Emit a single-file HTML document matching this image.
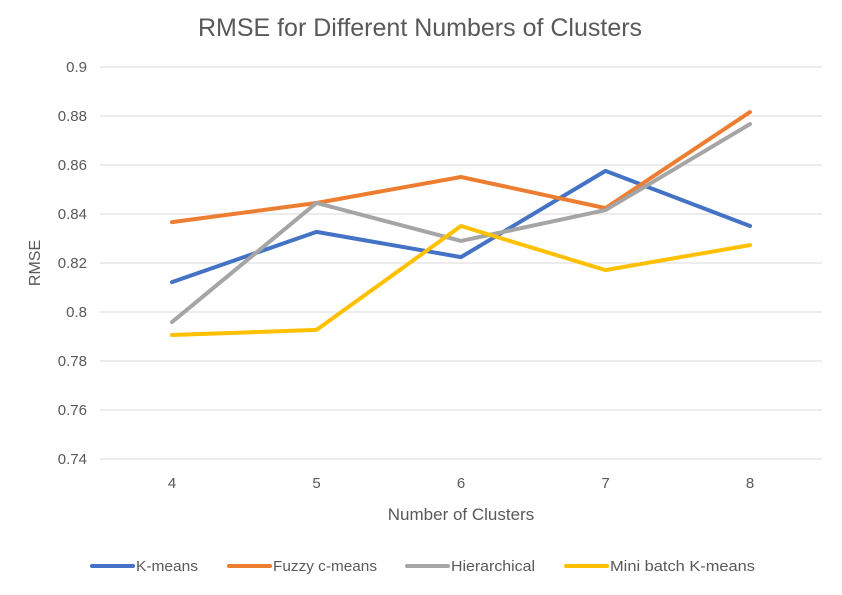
<!DOCTYPE html>
<html><head><meta charset="utf-8"><style>
body{margin:0;background:#fff;font-family:"Liberation Sans",sans-serif;}
svg text{font-family:"Liberation Sans",sans-serif;fill:#595959;}
</style></head><body>
<svg width="842" height="590" xmlns="http://www.w3.org/2000/svg">
<rect width="842" height="590" fill="#fff"/>
<text x="420" y="36" font-size="25" text-anchor="middle">RMSE for Different Numbers of Clusters</text>
<g id="grid"></g><g id="series"></g>
<text x="461" y="520" font-size="17" text-anchor="middle">Number of Clusters</text>
<text transform="translate(40,263) rotate(-90)" font-size="16" text-anchor="middle">RMSE</text>
<g id="legend"></g>
</svg>
<script>
const categories=[4,5,6,7,8];
const yTicks=[0.74,0.76,0.78,0.8,0.82,0.84,0.86,0.88,0.9];
const yTickLabels=["0.74","0.76","0.78","0.8","0.82","0.84","0.86","0.88","0.9"];
const seriesNames=["K-means","Fuzzy c-means","Hierarchical","Mini batch K-means"];
const kmeans=[0.8122,0.8327,0.8224,0.8576,0.8351];
const fuzzy=[0.8367,0.8445,0.8551,0.8424,0.8816];
const hier=[0.7959,0.8445,0.829,0.8416,0.8767];
const mini=[0.7906,0.7927,0.8351,0.8171,0.8273];
const colors=["#4472C4","#ED7D31","#A5A5A5","#FFC000"];
const NS="http://www.w3.org/2000/svg";
const yS=v=>67+(0.9-v)/0.16*392;
const xS=i=>172+i*144.5;
function mk(t,a,p){const e=document.createElementNS(NS,t);for(const k in a)e.setAttribute(k,a[k]);p.appendChild(e);return e;}
const g=document.getElementById('grid');
yTicks.forEach((v,i)=>{
 const l=mk('line',{x1:100,x2:822,y1:yS(v),y2:yS(v),stroke:'#d9d9d9','stroke-width':1},g);
 
 
 const t=mk('text',{x:87,y:yS(v)+5,'font-size':15,'text-anchor':'end'},g);t.textContent=yTickLabels[i];
 
 
});
categories.forEach((c,i)=>{
 const t=mk('text',{x:xS(i),y:488,'font-size':15,'text-anchor':'middle'},g);t.textContent=c;
 
 
});
const s=document.getElementById('series');
[kmeans,fuzzy,hier,mini].forEach((d,k)=>{
 const p=mk('polyline',{points:d.map((v,i)=>xS(i)+','+yS(v)).join(' '),fill:'none',stroke:colors[k],'stroke-width':4,'stroke-linejoin':'round','stroke-linecap':'round'},s);
 
 
});
const lg=document.getElementById('legend');
const lx=[92,229,407,566];
const tw=[62,104,84,145];
seriesNames.forEach((n,k)=>{
 const l=mk('line',{x1:lx[k],x2:lx[k]+41,y1:566,y2:566,stroke:colors[k],'stroke-width':4,'stroke-linecap':'round'},lg);
 
 
 const t=mk('text',{x:lx[k]+44,y:571,'font-size':15,textLength:tw[k],lengthAdjust:'spacingAndGlyphs'},lg);t.textContent=n;
 
 
});
</script>
</body></html>
